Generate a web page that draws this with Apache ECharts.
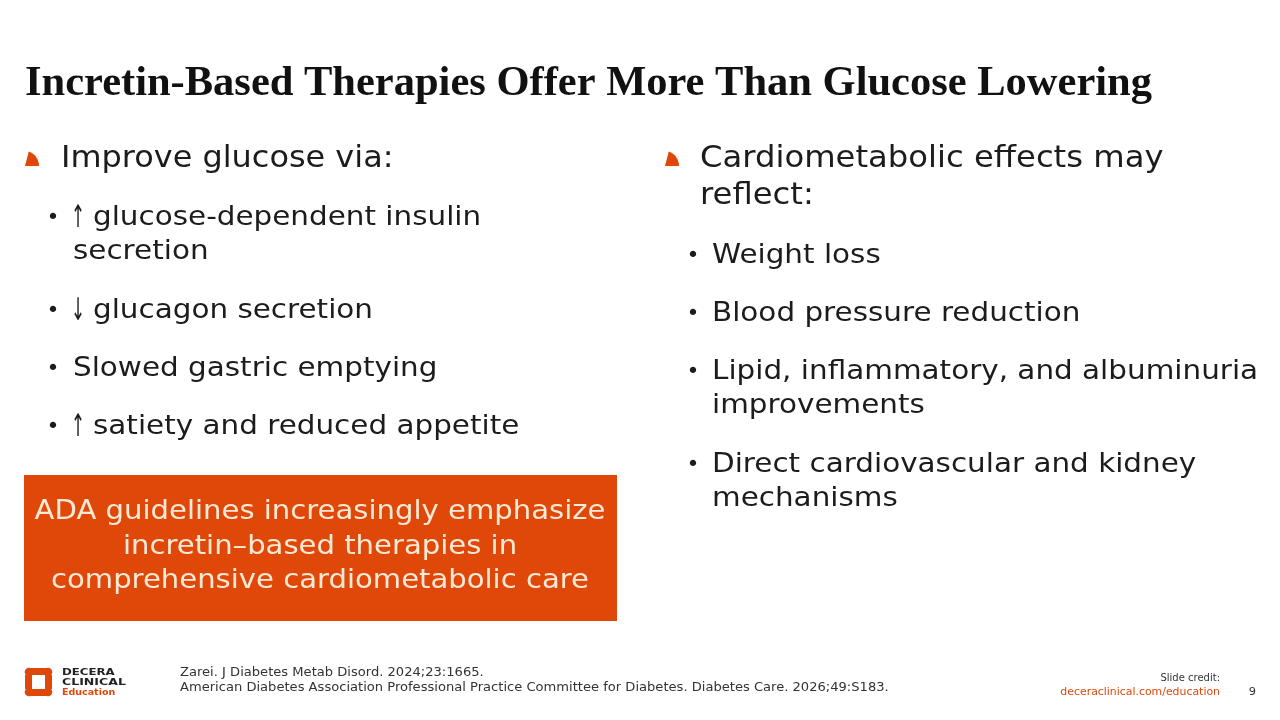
<!DOCTYPE html>
<html>
<head>
<meta charset="utf-8">
<script src="https://cdn.jsdelivr.net/npm/echarts@6/dist/echarts.min.js"></script>
<style>
html,body{margin:0;padding:0;background:#fff;}
#c{width:1280px;height:720px;}
</style>
</head>
<body>
<div id="c"></div>
<script>
const titleText = "Incretin-Based Therapies Offer More Than Glucose Lowering";
const leftHeading = ["Improve glucose via:"];
const leftItems = [
  ["↑ glucose-dependent insulin", "secretion"],
  ["↓ glucagon secretion"],
  ["Slowed gastric emptying"],
  ["↑ satiety and reduced appetite"]
];
const rightHeading = ["Cardiometabolic effects may", "reflect:"];
const rightItems = [
  ["Weight loss"],
  ["Blood pressure reduction"],
  ["Lipid, inflammatory, and albuminuria", "improvements"],
  ["Direct cardiovascular and kidney", "mechanisms"]
];
const calloutLines = ["ADA guidelines increasingly emphasize", "incretin–based therapies in", "comprehensive cardiometabolic care"];
const references = ["Zarei. J Diabetes Metab Disord. 2024;23:1665.", "American Diabetes Association Professional Practice Committee for Diabetes. Diabetes Care. 2026;49:S183."];
const logoWords = ["DECERA", "CLINICAL", "Education"];
const creditLines = ["Slide credit:", "deceraclinical.com/education"];
const pageNumber = "9";

const ORANGE = "#E0480A";
const DARK = "#1c1c1c";
const BODY_FONT = "'DejaVu Sans', 'Noto Sans', sans-serif";
const SX = 1.09;

const chart = echarts.init(document.getElementById('c'), null, {renderer: 'canvas', width: 1280, height: 720});

function txt(text, x, y, size, opts) {
  opts = opts || {};
  return {
    type: 'text', x: x, y: y,
    scaleX: opts.sx == null ? SX : opts.sx,
    style: {
      text: text,
      font: (opts.weight || 'normal') + ' ' + size + 'px ' + (opts.family || BODY_FONT),
      fill: opts.fill || DARK,
      align: opts.align || 'left',
      verticalAlign: 'middle'
    }
  };
}
// item line: a leading arrow is drawn tall and slim, the rest follows
function itemLine(text, x, y, size) {
  const out = [];
  const first = text.charAt(0);
  if (first === '↑' || first === '↓') {
    out.push(txt(first, x - 2, y + 1, size + 4, {sx: 0.55}));
    out.push(txt(text.slice(2), x + 20, y, size));
  } else {
    out.push(txt(text, x, y, size));
  }
  return out;
}
function marker(x, y) {
  // sector-like marker: flat bottom, curved top-right, slanted left
  const pts = [[0, 14]];
  for (let k = 0; k <= 10; k++) {
    const a = k / 10 * (Math.PI * 0.39);
    pts.push([-1.5 + 15.5 * Math.cos(a), 14 - 15.5 * Math.sin(a)]);
  }
  return {type: 'polygon', x: x, y: y, shape: {points: pts}, style: {fill: ORANGE}};
}

const g = [];
g.push(txt(titleText, 25, 84, 42.5, {family: "'Liberation Serif', 'Times New Roman', serif", weight: 'bold', fill: '#111', sx: 1}));

// left column
g.push(marker(25, 152));
g.push(txt(leftHeading[0], 61, 159, 29.3));
const leftY = [[218, 252], [311], [369], [427]];
leftItems.forEach((lines, i) => {
  g.push(txt('•', 46.5, leftY[i][0], 22, {sx: 1}));
  lines.forEach((l, j) => itemLine(l, 73, leftY[i][j], 27).forEach(e => g.push(e)));
});

// right column
g.push(marker(665, 152));
const rhY = [159, 196];
rightHeading.forEach((l, j) => g.push(txt(l, 700, rhY[j], 29.6)));
const rightY = [[256], [314], [372, 406], [465, 499]];
rightItems.forEach((lines, i) => {
  g.push(txt('•', 686.5, rightY[i][0], 22, {sx: 1}));
  lines.forEach((l, j) => itemLine(l, 712, rightY[i][j], 27).forEach(e => g.push(e)));
});

// callout box
g.push({type: 'rect', shape: {x: 24, y: 475, width: 593, height: 146}, style: {fill: ORANGE}});
const cY = [512, 547, 581];
calloutLines.forEach((l, j) => g.push(txt(l, 320, cY[j], 26.7, {align: 'center', fill: '#FDEAD6'})));

// logo
const logoParts = [
  {type: 'rect', shape: {x: 31, y: 668, width: 15, height: 7}},
  {type: 'rect', shape: {x: 31, y: 689, width: 15, height: 7}},
  {type: 'rect', shape: {x: 25, y: 675, width: 7, height: 14}},
  {type: 'rect', shape: {x: 45, y: 675, width: 7, height: 14}},
  {type: 'circle', shape: {cx: 29, cy: 672, r: 4.3}},
  {type: 'circle', shape: {cx: 48, cy: 672, r: 4.3}},
  {type: 'circle', shape: {cx: 29, cy: 692, r: 4.3}},
  {type: 'circle', shape: {cx: 48, cy: 692, r: 4.3}}
];
logoParts.forEach(p => { p.style = {fill: ORANGE}; g.push(p); });
g.push(txt(logoWords[0], 62, 673, 9.5, {weight: 'bold', fill: '#222', sx: 1.24}));
g.push(txt(logoWords[1], 62, 683, 9.5, {weight: 'bold', fill: '#222', sx: 1.32}));
g.push(txt(logoWords[2], 62, 692.5, 9.5, {weight: 'bold', fill: ORANGE, sx: 1.0}));

// references
g.push(txt(references[0], 180, 673, 12, {fill: '#333'}));
g.push(txt(references[1], 180, 688, 12, {fill: '#333'}));

// credit
g.push(txt(creditLines[0], 1220, 678, 10, {align: 'right', fill: '#333', sx: 1.0}));
g.push(txt(creditLines[1], 1220, 692, 10, {align: 'right', fill: ORANGE}));
g.push(txt(pageNumber, 1256, 692, 10.5, {align: 'right', fill: '#333'}));

chart.setOption({
  backgroundColor: '#ffffff',
  animation: false,
  graphic: {elements: g}
});
</script>
</body>
</html>
